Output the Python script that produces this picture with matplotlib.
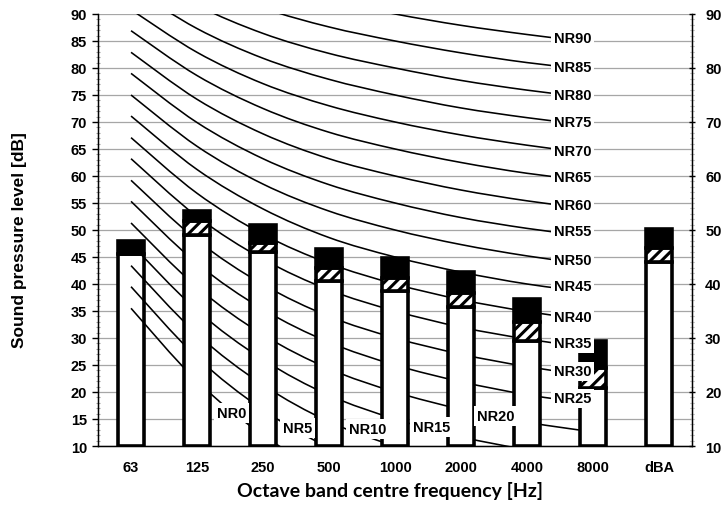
# NR-curve chart: measured octave band spectrum vs noise rating curves
import numpy as np
import matplotlib
matplotlib.use("Agg")
import matplotlib.pyplot as plt
from matplotlib.path import Path
from matplotlib.patches import PathPatch
from matplotlib.ticker import MultipleLocator

plt.rcParams['font.family'] = ['Liberation Sans', 'DejaVu Sans']
plt.rcParams['font.weight'] = 'bold'
plt.rcParams['hatch.linewidth'] = 2.2

# ─── Data ─────────────────────────────────────────────────────────────
BANDS = ['63', '125', '250', '500', '1000', '2000', '4000', '8000', 'dBA']

# stacked bar levels [dB]: white up to WHITE_TOP, hatched to HATCH_TOP, black to BLACK_TOP
WHITE_TOP = [45.5, 49.0, 46.0, 40.5, 38.7, 35.7, 29.5, 20.8, 44.0]
HATCH_TOP = [45.5, 51.6, 47.6, 42.9, 41.2, 38.3, 32.9, 24.4, 46.6]
BLACK_TOP = [48.0, 53.5, 50.9, 46.4, 44.8, 42.3, 37.2, 29.5, 50.2]

# NR curves, level at 63 ... 8000 Hz
NR0  = [35.5, 22.0, 12.0, 4.8, 0.0, -3.5, -6.1, -8.0]
NR5  = [39.5, 26.4, 16.7, 9.7, 5.0, 1.6, -1.0, -2.9]
NR10 = [43.4, 30.7, 21.3, 14.5, 10.0, 6.7, 4.2, 2.3]
NR15 = [47.4, 35.1, 26.0, 19.4, 15.0, 11.7, 9.3, 7.5]
NR20 = [51.3, 39.4, 30.6, 24.3, 20.0, 16.8, 14.4, 12.6]
NR25 = [55.3, 43.8, 35.3, 29.2, 25.0, 21.9, 19.5, 17.8]
NR30 = [59.2, 48.1, 39.9, 34.0, 30.0, 27.0, 24.7, 22.9]
NR35 = [63.2, 52.5, 44.6, 38.9, 35.0, 32.0, 29.8, 28.1]
NR40 = [67.1, 56.8, 49.2, 43.8, 40.0, 37.1, 34.9, 33.2]
NR45 = [71.1, 61.2, 53.9, 48.6, 45.0, 42.2, 40.0, 38.4]
NR50 = [75.0, 65.5, 58.5, 53.5, 50.0, 47.3, 45.2, 43.5]
NR55 = [79.0, 69.9, 63.2, 58.4, 55.0, 52.3, 50.3, 48.7]
NR60 = [82.9, 74.2, 67.8, 63.2, 60.0, 57.4, 55.4, 53.8]
NR65 = [86.9, 78.6, 72.5, 68.1, 65.0, 62.5, 60.5, 59.0]
NR70 = [90.8, 82.9, 77.1, 73.0, 70.0, 67.6, 65.7, 64.1]
NR75 = [94.8, 87.3, 81.8, 77.9, 75.0, 72.6, 70.8, 69.3]
NR80 = [98.7, 91.6, 86.4, 82.7, 80.0, 77.7, 75.9, 74.4]
NR85 = [102.7, 96.0, 91.1, 87.6, 85.0, 82.8, 81.0, 79.6]
NR90 = [106.6, 100.3, 95.7, 92.5, 90.0, 87.9, 86.2, 84.7]

NR_CURVES = [NR0, NR5, NR10, NR15, NR20, NR25, NR30, NR35, NR40,
             NR45, NR50, NR55, NR60, NR65, NR70, NR75, NR80, NR85, NR90]
NR_NAMES = ['NR%d' % n for n in range(0, 95, 5)]

# label anchor per curve (band index, dB)
NR_LABEL_X = [1.52, 2.52, 3.58, 4.55, 5.53] + [6.69] * 14
NR_LABEL_Y = [16.1, 13.4, 13.1, 13.5, 15.6,
              18.8, 23.8, 29.1, 33.8, 39.6, 44.4, 49.75, 54.6,
              59.75, 64.7, 70.05, 75.05, 80.1, 85.5]


# ─── Helpers ──────────────────────────────────────────────────────────
def smooth_path(xs, ys):
    # Catmull-Rom style bezier through the points (like a spreadsheet smoothed line)
    pts = np.column_stack([xs, ys]).astype(float)
    p = np.vstack([pts[0], pts, pts[-1]])
    verts = [pts[0]]
    codes = [Path.MOVETO]
    for i in range(1, len(p) - 2):
        c1 = p[i] + (p[i + 1] - p[i - 1]) / 6
        c2 = p[i + 1] - (p[i + 2] - p[i]) / 6
        verts += [c1, c2, p[i + 1]]
        codes += [Path.CURVE4] * 3
    return Path(verts, codes)


def stacked_bar(ax, xi, i, z):
    w = 0.39
    ax.bar(xi, WHITE_TOP[i] - 10, bottom=10, width=w, color='white',
           edgecolor='black', linewidth=2.6, zorder=z)
    ax.bar(xi, HATCH_TOP[i] - WHITE_TOP[i], bottom=WHITE_TOP[i], width=w,
           color='white', edgecolor='black', hatch='///', linewidth=2.6, zorder=z)
    ax.bar(xi, BLACK_TOP[i] - HATCH_TOP[i], bottom=HATCH_TOP[i], width=w,
           color='black', edgecolor='black', linewidth=2.6, zorder=z)


# ─── Figure ───────────────────────────────────────────────────────────
fig = plt.figure(figsize=(7.24, 5.06), dpi=100)
ax = fig.add_axes([0.1354, 0.1166, 0.8204, 0.8538])

x = np.arange(len(BANDS))
# the 63 Hz bar sits under the curves, the others cover them
for i in x:
    stacked_bar(ax, i, i, 2 if i == 0 else 4)

xb = np.arange(8)
for curve in NR_CURVES:
    ax.add_patch(PathPatch(smooth_path(xb, curve), fill=False,
                           edgecolor='black', linewidth=1.15, zorder=3))

for name, lx, ly in zip(NR_NAMES, NR_LABEL_X, NR_LABEL_Y):
    ax.text(lx, ly, name, ha='center', va='center', fontsize=10.5,
            fontweight='bold', zorder=6,
            bbox=dict(boxstyle='square,pad=0.2', fc='white', ec='none'))

ax.set_xlim(-0.5, 8.5)
ax.set_ylim(10, 90)
ax.set_xticks(x)
ax.set_xticklabels(BANDS)
ax.yaxis.set_major_locator(MultipleLocator(5))
ax.yaxis.set_minor_locator(MultipleLocator(1))
ax.tick_params(axis='x', length=0, pad=10, labelsize=10.5)
ax.tick_params(axis='y', which='major', direction='out', length=4, width=1,
               pad=4, labelsize=10.5)
ax.tick_params(axis='y', which='minor', direction='inout', length=3,
               width=0.8, color='#A0A0A0')
ax.grid(axis='y', which='major', color='#A6A6A6', linewidth=0.9)
ax.set_axisbelow(True)
ax.spines['top'].set_visible(False)
for s in ('left', 'right', 'bottom'):
    ax.spines[s].set_linewidth(1.0)

ax2 = ax.twinx()
ax2.set_ylim(10, 90)
ax2.yaxis.set_major_locator(MultipleLocator(10))
ax2.yaxis.set_minor_locator(MultipleLocator(1))
ax2.tick_params(axis='y', which='major', direction='inout', length=5, width=1,
                pad=7, labelsize=10.5)
ax2.tick_params(axis='y', which='minor', direction='inout', length=3,
                width=0.8, color='#A0A0A0')
ax2.spines['top'].set_visible(False)

ax.set_ylabel('Sound pressure level [dB]', fontsize=12.5, fontweight='bold')
ax.yaxis.set_label_coords(-0.12, 0.478)
ax.set_xlabel('Octave band centre frequency [Hz]', fontsize=14,
              fontweight='bold', family=['Lato', 'DejaVu Sans'])
ax.xaxis.set_label_coords(0.4916, -0.082)

fig.savefig('out.png', dpi=100)
